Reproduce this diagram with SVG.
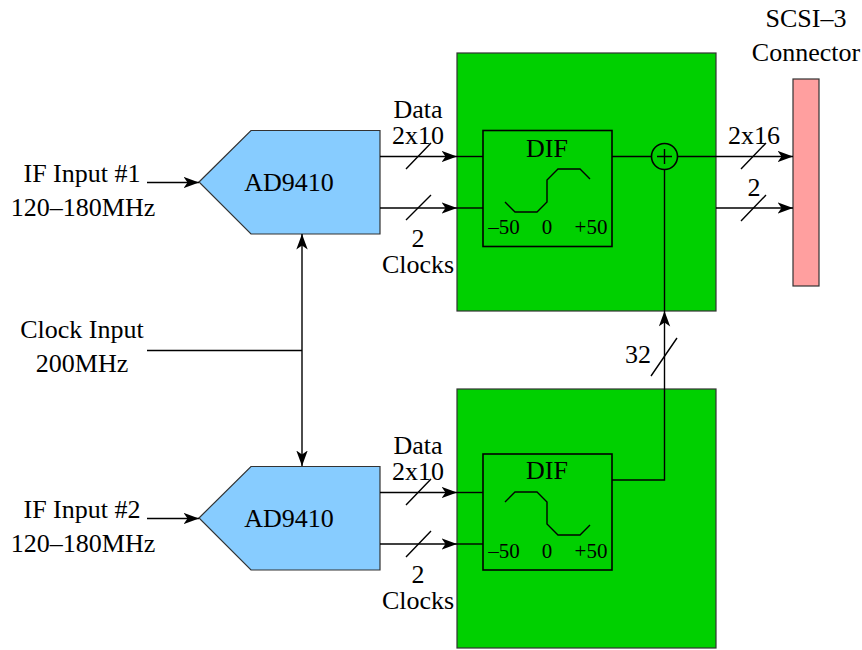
<svg xmlns="http://www.w3.org/2000/svg" width="862" height="650" viewBox="0 0 862 650">
<defs>
<marker id="a" markerUnits="userSpaceOnUse" markerWidth="16" markerHeight="12" refX="15.500" refY="6" orient="auto-start-reverse"><path d="M0 0.300L15.500 6L0 11.700L4 6Z" fill="#000"/></marker>
</defs>
<style>
text{font-family:"Liberation Serif","Times New Roman",serif;font-size:26px;fill:#000;text-anchor:middle}
.s{font-size:21px}
.l{fill:none;stroke:#000;stroke-width:1.4}
.b{stroke:#333;stroke-width:1.2}
.g{fill:#00d000}
.d{fill:#87ccff}
.p{fill:#ff9f9f}
.c{fill:none;stroke:#000;stroke-width:1.6}
</style>
<rect width="862" height="650" fill="#fff"/>
<g id="fpga1"><rect class="g b" x="457" y="53" width="259" height="258"/></g>
<g id="fpga2"><rect class="g b" x="457" y="389" width="259" height="259"/></g>
<g id="adc1"><polygon class="d b" points="199,182 251,130.500 380,130.500 380,234 251,234"/><text x="289" y="191">AD9410</text></g>
<g id="adc2"><polygon class="d b" points="199,518 251,466.500 380,466.500 380,570 251,570"/><text x="289" y="527">AD9410</text></g>
<g id="connector"><rect class="p b" x="793" y="79" width="26" height="207"/><text x="806" y="27">SCSI–3</text><text x="806" y="61">Connector</text></g>
<g id="dif1"><rect class="c" x="483" y="130.500" width="129" height="116"/><text x="547" y="157">DIF</text><path class="l" d="M505 202L515 212H537L547 202V180L558 169H580L590 179"/><text class="s" x="504" y="234">–50</text><text class="s" x="547" y="234">0</text><text class="s" x="591" y="234">+50</text></g>
<g id="dif2"><rect class="c" x="483" y="454" width="129" height="116"/><text x="547" y="479">DIF</text><path class="l" d="M505 502L515 492H537L547 502V524L558 535H580L590 525"/><text class="s" x="504" y="558">–50</text><text class="s" x="547" y="558">0</text><text class="s" x="591" y="558">+50</text></g>
<g id="sum"><circle class="c" cx="664.500" cy="156.500" r="13"/><path class="l" d="M657 156.500H672M664.500 149V164"/></g>
<g id="labels">
<text x="82" y="182">IF Input #1</text><text x="83" y="216">120–180MHz</text>
<text x="82" y="338">Clock Input</text><text x="82" y="372">200MHz</text>
<text x="82" y="518">IF Input #2</text><text x="83" y="552">120–180MHz</text>
<text x="418" y="118">Data</text><text x="418" y="144">2x10</text><text x="418" y="247">2</text><text x="418" y="273">Clocks</text>
<text x="418" y="454">Data</text><text x="418" y="480">2x10</text><text x="418" y="583">2</text><text x="418" y="609">Clocks</text>
<text x="754" y="144">2x16</text><text x="754" y="196">2</text><text x="638" y="363">32</text>
</g>
<g id="connectors" class="l">
<path class="l" marker-end="url(#a)" d="M147 182.500H199"/>
<path class="l" marker-end="url(#a)" d="M147 518.500H199"/>
<path class="l" d="M147 350.500H302"/>
<path class="l" marker-start="url(#a)" marker-end="url(#a)" d="M302 234V466"/>
<path class="l" marker-end="url(#a)" d="M380 156.500H457"/><path class="l" d="M457 156.500H483"/>
<path class="l" marker-end="url(#a)" d="M380 208H457"/><path class="l" d="M457 208H483"/>
<path class="l" marker-end="url(#a)" d="M380 492.500H457"/><path class="l" d="M457 492.500H483"/>
<path class="l" marker-end="url(#a)" d="M380 544H457"/><path class="l" d="M457 544H483"/>
<path class="l" d="M612 156.500H651.500"/>
<path class="l" marker-end="url(#a)" d="M677.500 156.500H793"/>
<path class="l" marker-end="url(#a)" d="M716 208H793"/>
<path class="l" d="M664.500 169.500V311"/>
<path class="l" d="M612 480H664.500V389"/>
<path class="l" marker-end="url(#a)" d="M664.500 389V311"/>
<path class="l" d="M406 169L431 143M406 220L431 195M406 505L431 479M406 557L431 531M741 169L766 143M741 221L766 195M651 376L677 338"/>
</g>
</svg>
